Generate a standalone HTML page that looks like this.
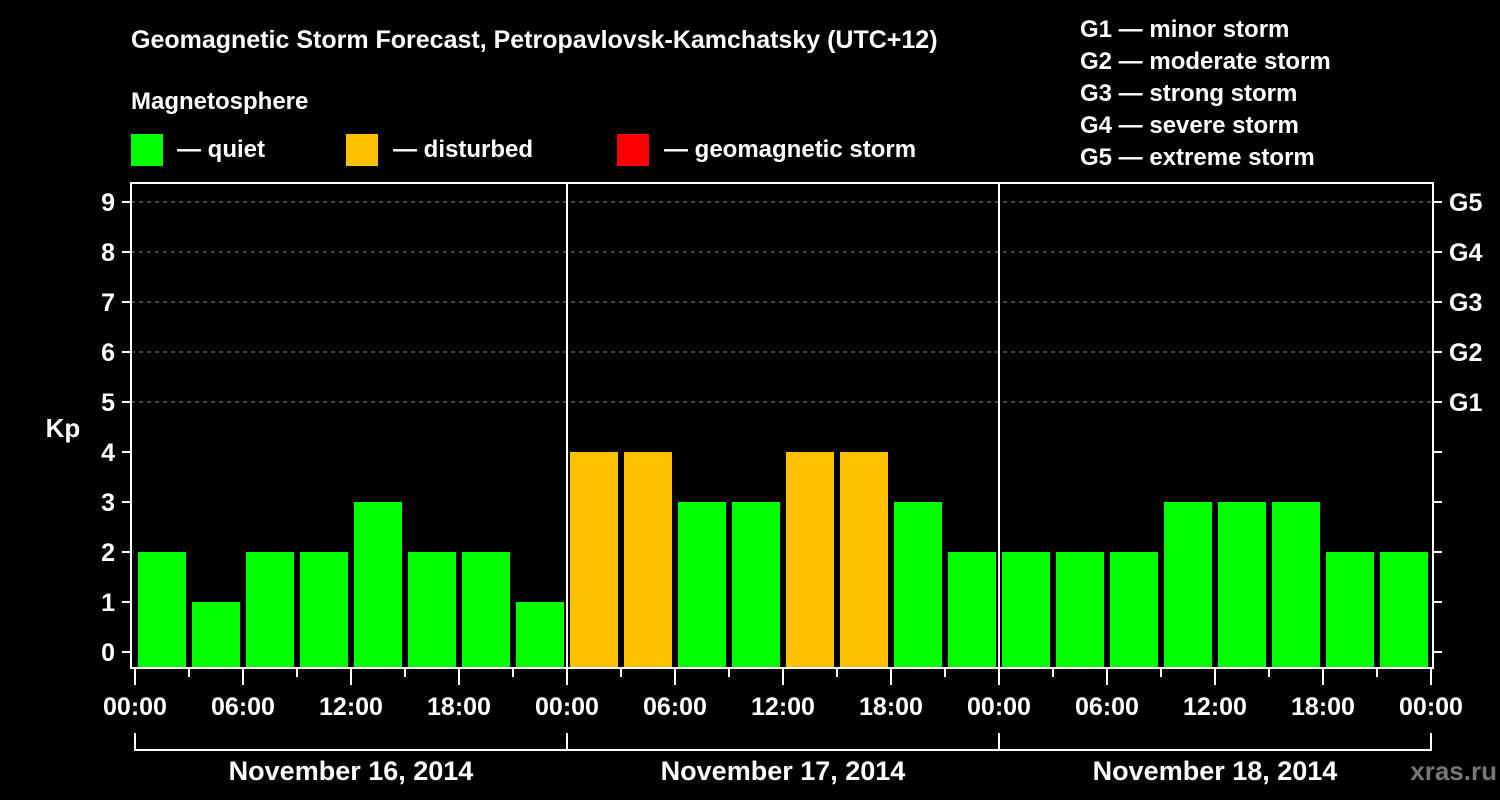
<!DOCTYPE html>
<html><head><meta charset="utf-8"><style>
html,body{margin:0;padding:0;background:#000;}
svg{display:block;font-family:"Liberation Sans",Arial,sans-serif;font-weight:bold;}
</style></head><body>
<svg id="chart" width="1500" height="800" viewBox="0 0 1500 800">
<rect width="1500" height="800" fill="#000"/>
<text x="131" y="48" fill="#fff" font-size="25">Geomagnetic Storm Forecast, Petropavlovsk-Kamchatsky (UTC+12)</text>
<text x="131" y="109" fill="#fff" font-size="24">Magnetosphere</text>
<rect x="131" y="134" width="32" height="32" fill="#00ff00"/>
<text x="177" y="157" fill="#fff" font-size="24">— quiet</text>
<rect x="346" y="134" width="32" height="32" fill="#ffc000"/>
<text x="393" y="157" fill="#fff" font-size="24">— disturbed</text>
<rect x="617" y="134" width="32" height="32" fill="#ff0000"/>
<text x="664" y="157" fill="#fff" font-size="24">— geomagnetic storm</text>
<g fill="#fff" font-size="24">
<text x="1080" y="37">G1 — minor storm</text>
<text x="1080" y="69">G2 — moderate storm</text>
<text x="1080" y="101">G3 — strong storm</text>
<text x="1080" y="133">G4 — severe storm</text>
<text x="1080" y="165">G5 — extreme storm</text>
</g>
<text x="63" y="437" fill="#fff" font-size="26" text-anchor="middle">Kp</text>
<g id="grid"></g><g id="bars"></g><g id="axes"></g>
<text x="1497" y="780" fill="#777" font-size="26" text-anchor="end">xras.ru</text>
</svg>
<script>
const days = ["November 16, 2014","November 17, 2014","November 18, 2014"];
const kpValues = [2,1,2,2,3,2,2,1, 4,4,3,3,4,4,3,2, 2,2,2,3,3,3,2,2];
const yTicks = [0,1,2,3,4,5,6,7,8,9];
const gLabels = ["G1","G2","G3","G4","G5"];
const hourLabels = ["00:00","06:00","12:00","18:00"];

const NS="http://www.w3.org/2000/svg";
const L=131,R=1433,T=183,B=668,X0=135,DAYW=432;
const y=v=>652-50*v;
const x=i=>X0+i*(DAYW/8);
function mk(p,tag,a){const e=document.createElementNS(NS,tag);for(const k in a)e.setAttribute(k,a[k]);p.appendChild(e);return e;}
const grid=document.getElementById('grid'),bars=document.getElementById('bars'),axes=document.getElementById('axes');
mk(grid,'rect',{x:L,y:T,width:R-L,height:B-T,fill:'#000'});
yTicks.forEach(v=>{
  if(v>=5){const g=mk(grid,'line',{x1:L,x2:R,y1:y(v),y2:y(v),stroke:'#888','stroke-dasharray':'4,4','stroke-width':1});
  
  }
  const t=mk(axes,'line',{x1:122,x2:L,y1:y(v),y2:y(v),stroke:'#fff','stroke-width':2});
  
  
  mk(axes,'line',{x1:R,x2:1442,y1:y(v),y2:y(v),stroke:'#fff','stroke-width':2});
  const l=mk(axes,'text',{x:115,y:y(v)+9,fill:'#fff','font-size':25,'text-anchor':'end'});
  l.textContent=v;
  
  
});
gLabels.forEach((g,i)=>{
  const l=mk(axes,'text',{x:1449,y:y(5+i)+9,fill:'#fff','font-size':25});
  l.textContent=g;
  
  
});
kpValues.forEach((v,i)=>{
  const b=mk(bars,'rect',{x:x(i)+3,y:y(v),width:48,height:B-1-y(v),fill:v>=5?'#ff0000':(v>=4?'#ffc000':'#00ff00')});
  
  
});
mk(axes,'rect',{x:L,y:T,width:R-L,height:B-T,fill:'none',stroke:'#fff','stroke-width':2});
for(let d=1;d<days.length;d++){mk(axes,'line',{x1:X0+d*DAYW,x2:X0+d*DAYW,y1:T,y2:B,stroke:'#fff','stroke-width':2});}
for(let i=0;i<=days.length*8;i++){
  const maj=i%2===0;
  mk(axes,'line',{x1:x(i),x2:x(i),y1:B,y2:maj?685:677,stroke:'#fff','stroke-width':2});
  if(maj){const l=mk(axes,'text',{x:x(i),y:715,fill:'#fff','font-size':25,'text-anchor':'middle'});
    l.textContent=hourLabels[(i/2)%4];
    
    }
}
days.forEach((d,k)=>{
  const x1=X0+k*DAYW,x2=x1+DAYW;
  mk(axes,'path',{d:`M${x1},733V750H${x2}V733`,fill:'none',stroke:'#fff','stroke-width':2});
  const l=mk(axes,'text',{x:(x1+x2)/2,y:780,fill:'#fff','font-size':27,'text-anchor':'middle'});
  l.textContent=d;
  
  
});
</script>
</body></html>
